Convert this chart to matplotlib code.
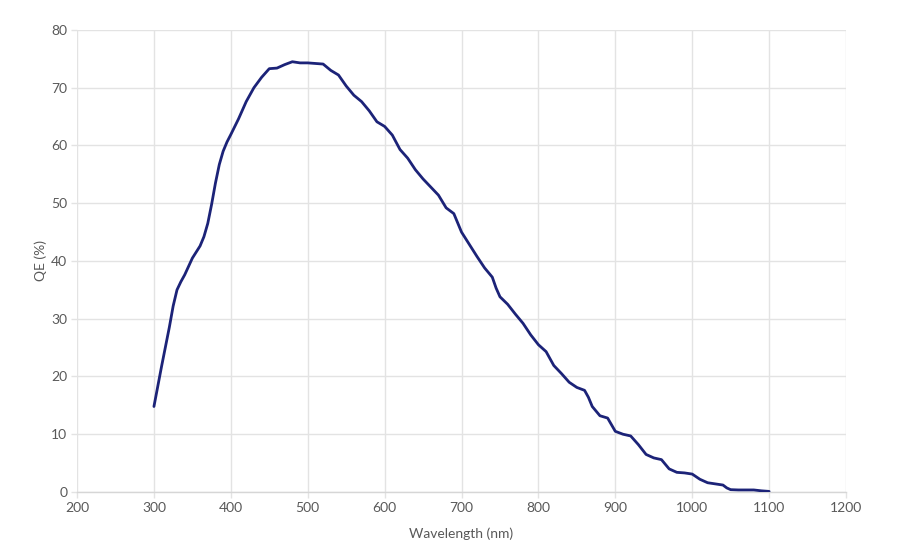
import matplotlib
matplotlib.use("Agg")
import matplotlib.pyplot as plt

wavelength = [300, 310, 320, 325, 330, 335, 340, 350, 360, 365, 370, 375, 380, 385, 390, 395,
              400, 410, 420, 430, 440, 450, 460, 470, 480, 490,
              500, 510, 520, 530, 540, 550, 560, 570, 580, 590,
              600, 610, 620, 630, 640, 650, 660, 670, 680, 690,
              700, 710, 720, 730, 740, 745, 750, 760, 770, 780, 790,
              800, 810, 820, 830, 840, 850, 860, 865, 870, 880, 890,
              900, 910, 920, 930, 940, 950, 960, 970, 980, 990,
              1000, 1010, 1020, 1030, 1040, 1045, 1050, 1060, 1070, 1080, 1090, 1100]
qe = [14.8, 21.8, 28.5, 32.2, 35.0, 36.4, 37.6, 40.5, 42.6, 44.2, 46.5, 49.8, 53.5, 56.7, 59.0, 60.6,
      61.9, 64.6, 67.6, 70.0, 71.8, 73.3, 73.4, 74.0, 74.5, 74.3,
      74.3, 74.2, 74.1, 73.0, 72.2, 70.3, 68.7, 67.6, 66.0, 64.1,
      63.3, 61.8, 59.3, 57.8, 55.8, 54.2, 52.8, 51.4, 49.2, 48.2,
      45.0, 42.9, 40.8, 38.8, 37.2, 35.3, 33.8, 32.5, 30.8, 29.2, 27.2,
      25.5, 24.3, 21.9, 20.5, 19.0, 18.1, 17.6, 16.4, 14.8, 13.2, 12.8,
      10.5, 10.0, 9.7, 8.2, 6.5, 5.9, 5.6, 4.0, 3.4, 3.3,
      3.1, 2.2, 1.6, 1.4, 1.2, 0.7, 0.4, 0.35, 0.35, 0.35, 0.2, 0.1]

x_ticks = [200, 300, 400, 500, 600, 700, 800, 900, 1000, 1100, 1200]
y_ticks = [0, 10, 20, 30, 40, 50, 60, 70, 80]

plt.rcParams['font.family'] = ['Lato', 'DejaVu Sans']

fig = plt.figure(figsize=(9, 5.5), dpi=100)
ax = fig.add_axes([0.0856, 0.1055, 0.8544, 0.84])

grid_c = '#e3e3e3'
text_c = '#595959'

ax.plot(wavelength, qe, color='#1c2378', lw=2.0, solid_joinstyle='round',
        solid_capstyle='round', zorder=3)

ax.set_xlim(200, 1200)
ax.set_ylim(0, 80)
ax.set_xticks(x_ticks)
ax.set_yticks(y_ticks)
ax.grid(True, color=grid_c, lw=1.0)
ax.set_axisbelow(True)

for s in ['top', 'right', 'left']:
    ax.spines[s].set_visible(False)
ax.spines['bottom'].set_color('#d6d6d6')
ax.spines['bottom'].set_linewidth(1.0)

ax.tick_params(axis='both', colors=grid_c, labelcolor=text_c, labelsize=10,
               length=4, width=1.0, direction='out', pad=3)

ax.set_xlabel('Wavelength (nm)', color=text_c, fontsize=10, labelpad=10)
ax.set_ylabel('QE (%)', color=text_c, fontsize=10, labelpad=3)

fig.savefig('out.png', dpi=100, facecolor='white')
